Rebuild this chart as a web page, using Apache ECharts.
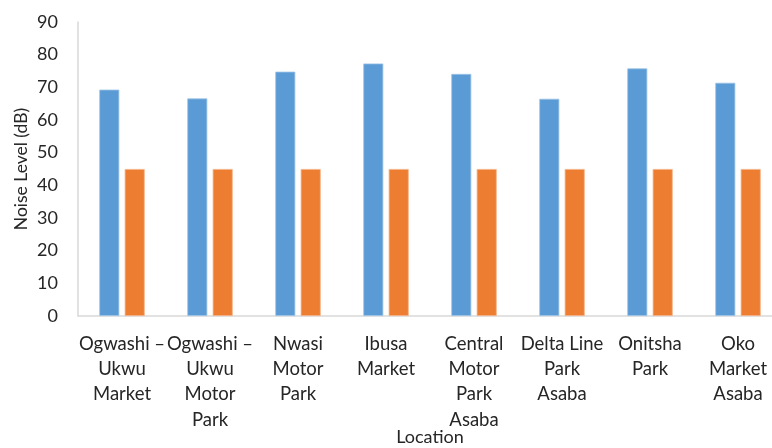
<!DOCTYPE html>
<html>
<head>
<meta charset="utf-8">
<script src="https://cdn.jsdelivr.net/npm/echarts@6/dist/echarts.min.js"></script>
<style>
  html, body { margin: 0; padding: 0; background: #ffffff; }
  #chart { width: 772px; height: 448px; }
</style>
</head>
<body>
<div id="chart"></div>
<script>
// Sampling locations (line breaks as they appear under the axis)
const locations = [
  'Ogwashi –\nUkwu\nMarket',
  'Ogwashi –\nUkwu\nMotor\nPark',
  'Nwasi\nMotor\nPark',
  'Ibusa\nMarket',
  'Central\nMotor\nPark\nAsaba',
  'Delta Line\nPark\nAsaba',
  'Onitsha\nPark',
  'Oko\nMarket\nAsaba'
];

// Measured noise level at each location, dB
const measuredLevel = [69.3, 66.6, 74.8, 77.3, 74.1, 66.5, 75.8, 71.4];

// Permissible limit, dB
const permissibleLimit = [45, 45, 45, 45, 45, 45, 45, 45];

// Value axis range
const yMin = 0;
const yMax = 90;
const yStep = 10;

const fontFamily = 'Lato, "Open Sans", sans-serif';
const textColor = '#262626';
const axisColor = '#d9d9d9';

const chart = echarts.init(document.getElementById('chart'), null, { renderer: 'canvas' });

chart.setOption({
  animation: false,
  backgroundColor: '#ffffff',
  grid: { left: 78, right: -10, top: 22, bottom: 132, containLabel: false, outerBoundsMode: 'none' },
  xAxis: {
    type: 'category',
    data: locations,
    name: 'Location',
    nameLocation: 'middle',
    nameGap: 112,
    nameMoveOverlap: false,
    nameTextStyle: { fontFamily, fontSize: 18, color: textColor, lineHeight: 18 },
    axisLine: { show: true, lineStyle: { color: axisColor, width: 1.5 } },
    axisTick: { show: false },
    axisLabel: {
      interval: 0,
      margin: 15,
      fontFamily,
      fontSize: 18.5,
      lineHeight: 25.3,
      color: textColor
    },
    splitLine: { show: false }
  },
  yAxis: {
    type: 'value',
    min: yMin,
    max: yMax,
    interval: yStep,
    name: 'Noise Level (dB)',
    nameLocation: 'middle',
    nameGap: 48,
    nameMoveOverlap: false,
    nameRotate: 90,
    nameTextStyle: { fontFamily, fontSize: 17.5, color: textColor },
    axisLine: { show: true, lineStyle: { color: axisColor, width: 1.5 } },
    axisTick: { show: false },
    axisLabel: { margin: 20, fontFamily, fontSize: 18, color: textColor },
    splitLine: { show: false }
  },
  series: [
    {
      name: 'Measured',
      type: 'bar',
      data: measuredLevel,
      barWidth: 20,
      barGap: '27%',
      itemStyle: { color: '#5b9bd5', borderColor: '#9dc3e6', borderWidth: 0.8 }
    },
    {
      name: 'Limit',
      type: 'bar',
      data: permissibleLimit,
      barWidth: 20,
      itemStyle: { color: '#ed7d31', borderColor: '#f4b183', borderWidth: 0.8 }
    }
  ]
});
</script>
</body>
</html>
